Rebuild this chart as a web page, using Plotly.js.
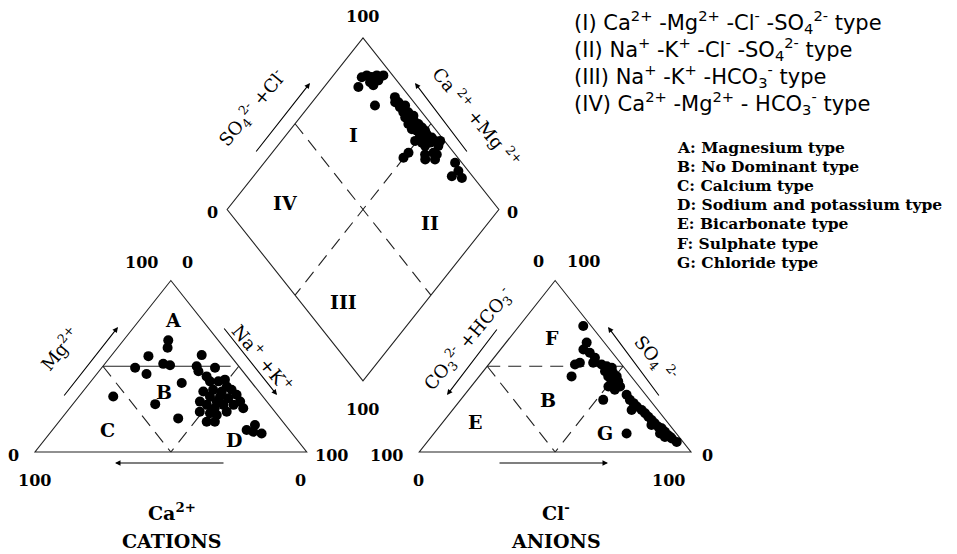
<!DOCTYPE html>
<html>
<head>
<meta charset="utf-8">
<script src="https://cdn.plot.ly/plotly-3.0.1.min.js"></script>
<style>html,body{margin:0;padding:0;background:#fff;}#chart{width:957px;height:554px;}</style>
</head>
<body>
<div id="chart"></div>
<script>
// ---- Data (percent, meq) ----
// Cation triangle: Mg2+ % and Na+ + K+ %  (Ca2+ = 100 - Mg - NaK)
const catMg  = [65.1,60.8,55.9,56.5,49.1,51.4,50.6,45.5,50.0,47.1,49.1,32.4,40.2,27.9,19.6,44.1,41.2,41.2,42.2,38.2,35.3,36.3,35.3,36.3,33.4,29.4,25.5,29.4,27.5,29.4,27.5,27.5,22.6,21.6,23.5,17.6,17.6,32.4,23.5,31.4,25.5,15.7,12.8,11.8,10.8,32.4];
const catNaK = [16.5,18.4,13.8,33.1,12.3,21.5,24.4,18.3,34.5,36.6,41.7,12.6,33.9,30.3,42.9,41.1,43.8,46.9,48.8,51.5,44.3,47.4,51.1,54.2,57.5,60.8,63.9,46.0,49.5,52.2,55.6,59.3,53.1,56.1,58.8,54.4,57.4,48.2,48.9,55.4,53.4,73.1,71.5,74.4,78.0,51.9];
// Anion triangle: SO4 2- % and Cl- %  (CO3+HCO3 = 100 - SO4 - Cl)
const anSO4 = [73.5,63.8,59.8,57.9,54.9,52.0,51.0,52.0,44.1,51.0,50.0,49.1,47.1,46.1,44.1,44.1,41.2,41.2,38.2,38.2,36.3,30.4,33.4,30.4,28.5,26.5,24.5,24.5,22.6,20.6,18.6,16.7,14.7,13.8,11.8,9.8,7.9,15.7,10.8,8.8,10.8,5.9,8.8];
const anCl  = [23.6,29.7,30.5,33.8,37.2,38.0,31.8,33.1,34.0,41.6,44.0,46.3,44.8,48.3,47.5,50.6,52.6,50.2,54.8,50.5,53.8,52.5,59.6,62.3,64.6,66.8,69.6,65.9,71.8,74.0,76.2,78.3,80.6,82.3,84.5,86.7,89.0,77.6,83.2,86.0,70.9,91.8,87.9];
// Diamond: Na+ + K+ % and SO4 2- + Cl- %
const diaNaK   = [11.0,12.3,14.6,16.0,18.4,18.0,15.5,12.6,17.6,24.1,29.0,31.8,33.8,35.2,36.5,38.3,40.5,41.2,43.8,41.8,45.5,47.8,49.9,46.9,49.5,51.5,54.3,56.5,55.2,58.4,52.2,49.2,54.3,50.2,49.8,56.8,59.4,61.1,58.3,61.9,70.3,73.9,73.0,77.2,44.6,53.6,38.7,59.2,30.6];
const diaSO4Cl = [88.1,90.5,91.8,94.2,96.6,93.3,89.7,84.0,90.0,84.7,94.5,94.3,93.4,95.8,93.2,95.0,94.2,95.9,94.6,91.6,95.3,95.6,95.8,92.8,92.5,95.4,96.3,96.5,94.2,98.4,91.2,89.2,91.4,83.3,80.0,88.9,92.5,93.2,87.5,91.1,97.5,96.3,92.4,95.6,91.4,94.5,92.4,96.3,93.1];

const legendRoman = [
  "(I) Ca<sup>2+</sup> -Mg<sup>2+</sup> -Cl<sup>-</sup> -SO<sub>4</sub><sup>2-</sup> type",
  "(II) Na<sup>+</sup> -K<sup>+</sup> -Cl<sup>-</sup> -SO<sub>4</sub><sup>2-</sup> type",
  "(III) Na<sup>+</sup> -K<sup>+</sup> -HCO<sub>3</sub><sup>-</sup> type",
  "(IV) Ca<sup>2+</sup> -Mg<sup>2+</sup> - HCO<sub>3</sub><sup>-</sup> type"
];
const legendLetters = [
  "A: Magnesium type","B: No Dominant type","C: Calcium type",
  "D: Sodium and potassium type","E: Bicarbonate type","F: Sulphate type","G: Chloride type"
];

// ---- Geometry (triangle side = 1) ----
const H = Math.sqrt(3)/2;
const G = 0.4144;
const catX = catMg.map((m,i)=> catNaK[i]/100 + 0.5*m/100);
const catY = catMg.map(m=> H*m/100);
const anX = anSO4.map((s,i)=> 1+G + anCl[i]/100 + 0.5*s/100);
const anY = anSO4.map(s=> H*s/100);
const diaX = diaNaK.map((n,i)=> 0.5*(1+G+diaSO4Cl[i]/100+n/100));
const diaY = diaNaK.map((n,i)=> H*(1+G+diaSO4Cl[i]/100-n/100));

const mk = {color:'#000', size:10, line:{width:0}};
const traces = [
  {x:catX, y:catY, mode:'markers', type:'scatter', marker:mk, hoverinfo:'skip'},
  {x:anX, y:anY, mode:'markers', type:'scatter', marker:mk, hoverinfo:'skip'},
  {x:diaX, y:diaY, mode:'markers', type:'scatter', marker:mk, hoverinfo:'skip'}
];

const LC = '#222';
function path(pts){return 'M'+pts.map(p=>p[0]+','+p[1]).join(' L')+' Z';}
function seg(a,b,dash){return {type:'line',xref:'x',yref:'y',x0:a[0],y0:a[1],x1:b[0],y1:b[1],line:{color:LC,width:1.1,dash:dash||'solid'},layer:'below'};}
const DASH = '13px,8px';
const Bv=[1+G/2,H*G], Lv=[0.5+G/2,H*(1+G)], Tv=[1+G/2,H*(2+G)], Rv=[1.5+G/2,H*(1+G)];
const mid=(a,b)=>[(a[0]+b[0])/2,(a[1]+b[1])/2];
const shapes = [
  {type:'path',xref:'x',yref:'y',path:path([[0,0],[1,0],[0.5,H]]),line:{color:LC,width:1.1},layer:'below'},
  {type:'path',xref:'x',yref:'y',path:path([[1+G,0],[2+G,0],[1.5+G,H]]),line:{color:LC,width:1.1},layer:'below'},
  {type:'path',xref:'x',yref:'y',path:path([Bv,Lv,Tv,Rv]),line:{color:LC,width:1.1},layer:'below'},
  seg([0.25,H/2],[0.72,H/2]),
  seg([0.25,H/2],[0.5,0],DASH), seg([0.75,H/2],[0.5,0],DASH),
  seg([1+G+0.25,H/2],[1+G+0.75,H/2],DASH),
  seg([1+G+0.25,H/2],[1+G+0.5,0],DASH), seg([1+G+0.75,H/2],[1+G+0.5,0],DASH),
  seg(mid(Lv,Tv),mid(Bv,Rv),DASH), seg(mid(Tv,Rv),mid(Bv,Lv),DASH)
];

const W=957, HH=554;
const SER='DejaVu Serif, Liberation Serif, serif';
function txt(t,px,py,size,opts){
  return Object.assign({text:t,x:px/W,y:1-py/HH,xref:'paper',yref:'paper',showarrow:false,
    font:{family:SER,size:size,color:'#000'},xanchor:'center',yanchor:'middle'},opts||{});
}
function B(s){return '<b>'+s+'</b>';}
function arrow(tx,ty,hx,hy){
  return {text:'',x:hx/W,y:1-hy/HH,xref:'paper',yref:'paper',showarrow:true,ax:tx-hx,ay:ty-hy,
    arrowhead:2,arrowsize:1,arrowwidth:1.1,arrowcolor:'#000',standoff:0,startstandoff:0};
}
const ann = [];
// numbers
[["100",362,17],["0",212,212],["0",512,212],["100",362,409],
 ["100",141,262],["0",187,262],["0",13,455],["100",34,480],["0",300,480],["100",331,455],
 ["100",386,455],["0",418,480],["100",668,480],["0",707,455],["0",538,261],["100",583,261]
].forEach(a=>ann.push(txt(B(a[0]),a[1],a[2],16)));
// region labels
[["A",173,320],["B",164,392],["C",107,430],["D",234,440],["F",552,338],["B",548,400],["E",475,422],["G",605,433],
 ["I",353,135],["IV",285,203],["II",430,223],["III",343,302]
].forEach(a=>ann.push(txt(B(a[0]),a[1],a[2],19)));
// axis names along edges
ann.push(txt("Mg<sup>2+</sup>",60,348,18,{textangle:-50}));
ann.push(txt("Na<sup>+</sup> +K<sup>+</sup>",263,358,18,{textangle:50}));
ann.push(txt("SO<sub>4</sub><sup>2-</sup> +Cl<sup>-</sup>",252,108,18,{textangle:-50}));
ann.push(txt("Ca <sup>2+</sup> +Mg <sup>2+</sup>",477,117,18,{textangle:50}));
ann.push(txt("CO<sub>3</sub><sup>2-</sup> +HCO<sub>3</sub><sup>-</sup>",468,339,18,{textangle:-50}));
ann.push(txt("SO<sub>4</sub> <sup>2-</sup>",655,358,18,{textangle:50}));
// bottom titles
ann.push(txt(B("Ca<sup>2+</sup>"),172,512,19));
ann.push(txt(B("CATIONS"),172,541,19));
ann.push(txt(B("Cl<sup>-</sup>"),556,512,19));
ann.push(txt(B("ANIONS"),556,541,19));
// arrows
ann.push(arrow(63,397,118,327));
ann.push(arrow(223,327,277,395));
ann.push(arrow(225,463,115,463));
ann.push(arrow(498,328,447,395));
ann.push(arrow(660,397,608,327));
ann.push(arrow(498,463,608,463));
ann.push(arrow(255,153,310,83));
ann.push(arrow(468,153,415,83));
// legends
legendRoman.forEach((t,i)=>ann.push(txt(t,572,22+i*27,21,{xanchor:'left',font:{family:'DejaVu Sans, sans-serif',size:21,color:'#000'}})));
legendLetters.forEach((t,i)=>ann.push(txt(B(t),675,147+i*19.2,15.5,{xanchor:'left'})));

const ax = {visible:false,showgrid:false,zeroline:false,fixedrange:true};
const layout = {
  width:W,height:HH,margin:{l:0,r:0,t:0,b:0},paper_bgcolor:'#fff',plot_bgcolor:'#fff',showlegend:false,
  xaxis:Object.assign({range:[-35/271.7,922/271.7]},ax),
  yaxis:Object.assign({range:[-102/198,452/198]},ax),
  shapes:shapes, annotations:ann
};
Plotly.newPlot('chart',traces,layout,{staticPlot:true,displayModeBar:false});
</script>
</body>
</html>
